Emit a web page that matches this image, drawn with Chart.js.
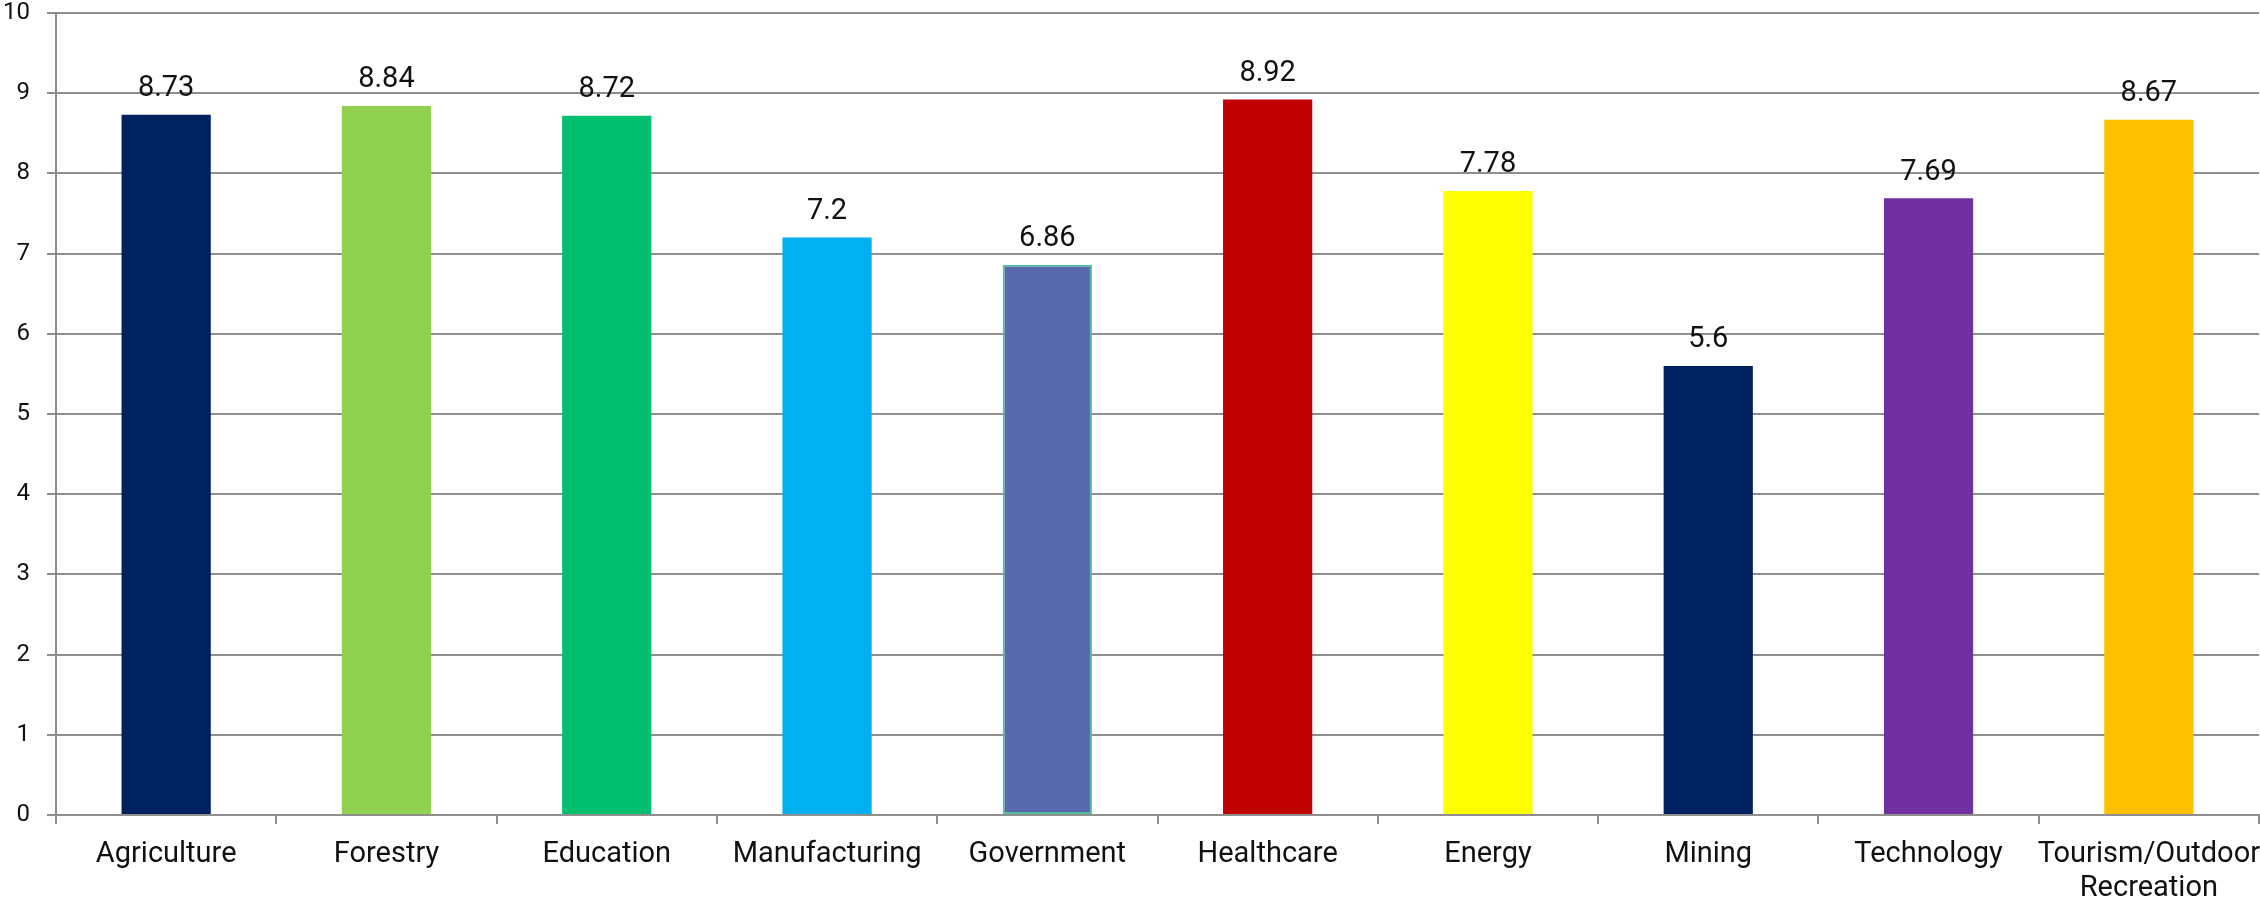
<!DOCTYPE html>
<html>
<head>
<meta charset="utf-8">
<script src="https://cdn.jsdelivr.net/npm/chart.js@4"></script>
<style>
  html, body { margin: 0; padding: 0; background: #fff; }
  #wrap { width: 2260px; height: 904px; }
</style>
</head>
<body>
<div id="wrap"><canvas id="sectorChart"></canvas></div>
<script>
// chart data
const categories = [
    'Agriculture', 'Forestry', 'Education', 'Manufacturing', 'Government',
    'Healthcare', 'Energy', 'Mining', 'Technology', ['Tourism/Outdoor', 'Recreation']
];
const scores = [8.73, 8.84, 8.72, 7.2, 6.86, 8.92, 7.78, 5.6, 7.69, 8.67];
const barColors = [
    '#002060', '#92D050', '#00BF6E', '#00B0F0', '#5A69AE',
    '#C00000', '#FFFF00', '#002060', '#7030A0', '#FFC000'
];
const barBorders = [0, 0, 0, 0, 2, 0, 0, 0, 0, 0];
const yTicks = [0, 1, 2, 3, 4, 5, 6, 7, 8, 9, 10];

const FONT = 'Roboto, "Liberation Sans", sans-serif';

// draws the value above each bar
const valueLabels = {
    id: 'valueLabels',
    afterDatasetsDraw(chart) {
        const ctx = chart.ctx;
        const meta = chart.getDatasetMeta(0);
        ctx.save();
        ctx.font = '29px ' + FONT;
        ctx.fillStyle = '#111';
        ctx.textAlign = 'center';
        ctx.textBaseline = 'middle';
        meta.data.forEach((bar, i) => {
            ctx.fillText(String(scores[i]), bar.x, bar.y - 26);
        });
        ctx.restore();
    }
};

new Chart(document.getElementById('sectorChart').getContext('2d'), {
    type: 'bar',
    data: {
        labels: categories,
        datasets: [{
            data: scores,
            backgroundColor: barColors,
            borderColor: barColors.map((c, i) => barBorders[i] ? '#4DBFA0' : c),
            borderWidth: barBorders,
            borderSkipped: false,
            categoryPercentage: 1,
            barPercentage: 0.405,
        }],
    },
    options: {
        responsive: true,
        maintainAspectRatio: false,
        animation: false,
        devicePixelRatio: 1,
        layout: { padding: { top: 13, right: 1, left: 0, bottom: 0 } },
        plugins: {
            legend: { display: false },
            tooltip: { enabled: false },
        },
        scales: {
            x: {
                offset: true,
                grid: {
                    offset: true,
                    drawOnChartArea: false,
                    drawTicks: true,
                    tickLength: 9,
                    color: '#8f8f8f',
                    lineWidth: 2,
                },
                border: { color: '#8f8f8f', width: 2 },
                ticks: {
                    font: { family: FONT, size: 29, lineHeight: 1.2 },
                    color: '#111',
                    padding: 13,
                    maxRotation: 0,
                    autoSkip: false,
                },
                afterFit(scale) {
                    scale.height = 89;
                    scale.paddingLeft = 0;
                    scale.paddingRight = 0;
                },
            },
            y: {
                min: 0,
                max: 10,
                afterBuildTicks(scale) { scale.ticks = yTicks.map(v => ({ value: v })); },
                grid: {
                    color: '#8f8f8f',
                    lineWidth: 2,
                    tickLength: 9,
                },
                border: { color: '#8f8f8f', width: 2 },
                ticks: {
                    font: { family: FONT, size: 24 },
                    color: '#111',
                    padding: 17,
                },
                afterFit(scale) {
                    scale.width = 56;
                    scale.paddingTop = 0;
                    scale.paddingBottom = 0;
                },
            },
        },
    },
    plugins: [valueLabels],
});
</script>
</body>
</html>
